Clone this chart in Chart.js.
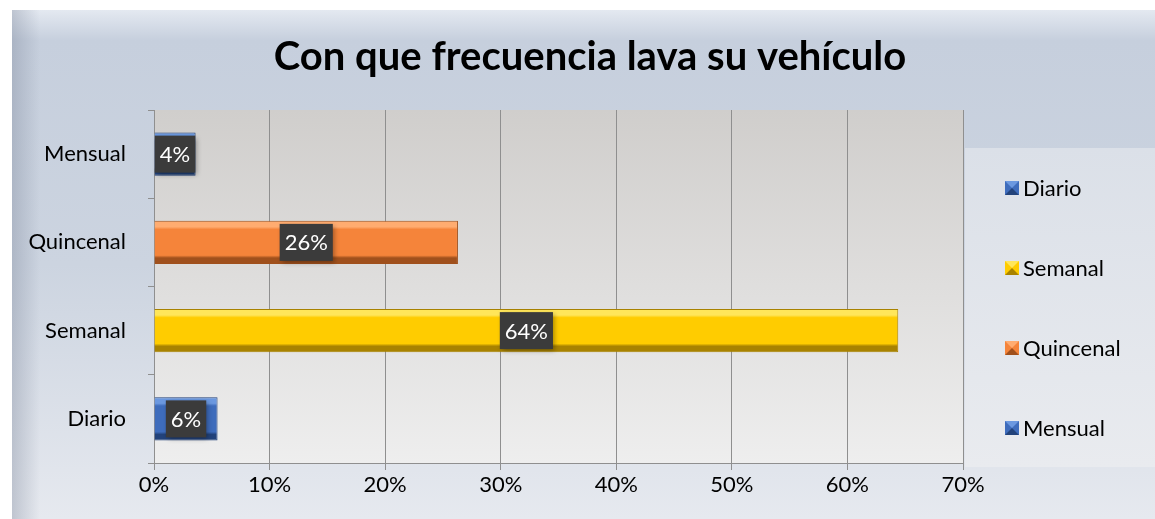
<!DOCTYPE html>
<html><head><meta charset="utf-8">
<script src="https://cdn.jsdelivr.net/npm/chart.js@4.4.1/dist/chart.umd.min.js"></script>
<style>html,body{margin:0;padding:0;background:#fff}#wrap{width:1155px;height:519px}</style>
</head><body><div id="wrap"><canvas id="c" width="1155" height="519"></canvas></div>
<script>
const categories = ['Diario', 'Semanal', 'Quincenal', 'Mensual'];
const values = [5.5, 64.4, 26.3, 3.6];
const valueLabels = ['6%', '64%', '26%', '4%'];
const xTicks = ['0%', '10%', '20%', '30%', '40%', '50%', '60%', '70%'];
const legendOrder = ['Diario', 'Semanal', 'Quincenal', 'Mensual'];
const titleText = 'Con que frecuencia lava su vehículo';

const baseColors = { Diario: ['#6b98e0', '#3e6cbc', '#22427a'], Semanal: ['#ffe65a', '#ffcc00', '#a88200'], Quincenal: ['#ffac70', '#f5843a', '#a0501c'], Mensual: ['#6b98e0', '#3e6cbc', '#22427a'] };
const FONT = 'Lato, "Open Sans", sans-serif';

const bgPlugin = {
  id: 'bg',
  beforeDraw(chart) {
    const ctx = chart.ctx, W = chart.width, H = chart.height;
    ctx.save();
    ctx.fillStyle = '#ffffff'; ctx.fillRect(0, 0, W, H);
    let g = ctx.createLinearGradient(0, 10, 0, H);
    g.addColorStop(0, '#e4e9f1'); g.addColorStop(0.06, '#c6cfdd'); g.addColorStop(0.5, '#ccd4e0'); g.addColorStop(1, '#e6e9ef');
    ctx.fillStyle = g; ctx.fillRect(12, 10, W - 12, H - 10);
    let gl = ctx.createLinearGradient(12, 0, 40, 0);
    gl.addColorStop(0, 'rgba(120,130,150,0.35)'); gl.addColorStop(1, 'rgba(120,130,150,0)');
    ctx.fillStyle = gl; ctx.fillRect(12, 10, 28, H - 10);
    let lg = ctx.createLinearGradient(0, 148, 0, 467);
    lg.addColorStop(0, '#dbe0e8'); lg.addColorStop(1, '#e9ebef');
    ctx.fillStyle = lg; ctx.fillRect(965, 148, W - 965, 319);
    const a = chart.chartArea;
    let pg = ctx.createLinearGradient(0, a.top, 0, a.bottom);
    pg.addColorStop(0, '#d0cecc'); pg.addColorStop(1, '#eeeeee');
    ctx.fillStyle = pg; ctx.fillRect(a.left, a.top, a.right - a.left, a.bottom - a.top);
    ctx.fillStyle = '#000'; ctx.font = 'bold 40px ' + FONT; ctx.textAlign = 'center'; ctx.textBaseline = 'middle';
    ctx.fillText(titleText, 590, 57);
    ctx.restore();
  }
};

const labelPlugin = {
  id: 'vlabels',
  afterDatasetsDraw(chart) {
    const ctx = chart.ctx, meta = chart.getDatasetMeta(0);
    ctx.save();
    ctx.font = '22px ' + FONT; ctx.textAlign = 'center'; ctx.textBaseline = 'middle';
    meta.data.forEach((bar, i) => {
      const cx = (bar.x + bar.base) / 2, cy = bar.y;
      const t = valueLabels[i];
      const w = ctx.measureText(t).width + 10, h = 37;
      ctx.shadowColor = 'rgba(0,0,0,0.35)'; ctx.shadowBlur = 5; ctx.shadowOffsetX = 2; ctx.shadowOffsetY = 2;
      ctx.fillStyle = '#3b3b3b'; ctx.fillRect(cx - w / 2, cy - h / 2, w, h);
      ctx.shadowColor = 'transparent';
      ctx.fillStyle = '#ffffff'; ctx.fillText(t, cx, cy + 1);
    });
    ctx.restore();
  }
};

const legendPlugin = {
  id: 'customLegend',
  afterDraw(chart) {
    const ctx = chart.ctx;
    ctx.save();
    ctx.font = '22px ' + FONT; ctx.textAlign = 'left'; ctx.textBaseline = 'middle';
    legendOrder.forEach((name, i) => {
      const y = 188 + i * 80;
      const c = baseColors[name];
      const x = 1005, s = 14;
      ctx.fillStyle = c[1]; ctx.fillRect(x, y - s / 2, s, s);
      ctx.fillStyle = c[0];
      ctx.beginPath(); ctx.moveTo(x, y - s / 2); ctx.lineTo(x + s, y - s / 2); ctx.lineTo(x + s / 2, y); ctx.closePath(); ctx.fill();
      ctx.fillStyle = c[2];
      ctx.beginPath(); ctx.moveTo(x, y + s / 2); ctx.lineTo(x + s, y + s / 2); ctx.lineTo(x + s / 2, y); ctx.closePath(); ctx.fill();
      ctx.fillStyle = '#000'; ctx.fillText(name, x + s + 4, y + 1);
    });
    ctx.restore();
  }
};

function barFill(context) {
  const chart = context.chart;
  const name = categories[context.dataIndex];
  const c = baseColors[name];
  const ys = chart.scales && chart.scales.y;
  if (!ys || !chart.chartArea) return c[1];
  const cy = ys.getPixelForValue(context.dataIndex);
  const half = (ys.height / categories.length) * 0.98 * 0.5 / 2;
  if (!isFinite(cy) || !isFinite(half) || half <= 0) return c[1];
  const g = chart.ctx.createLinearGradient(0, cy - half, 0, cy + half);
  g.addColorStop(0, c[0]); g.addColorStop(0.14, c[0]); g.addColorStop(0.2, c[1]); g.addColorStop(0.8, c[1]); g.addColorStop(0.86, c[2]); g.addColorStop(1, c[2]);
  return g;
}

new Chart(document.getElementById('c'), {
  type: 'bar',
  data: {
    labels: categories,
    datasets: [{
      data: values,
      backgroundColor: barFill,
      borderColor: categories.map(n => baseColors[n][2]),
      borderWidth: 1,
      categoryPercentage: 0.98,
      barPercentage: 0.5
    }]
  },
  options: {
    indexAxis: 'y',
    responsive: false,
    animation: false,
    devicePixelRatio: 1,
    layout: { padding: { top: 110, right: 192, left: 0, bottom: 0 } },
    plugins: { legend: { display: false }, tooltip: { enabled: false }, title: { display: false } },
    scales: {
      x: {
        min: 0, max: 70,
        ticks: { stepSize: 10, color: '#000', font: { family: FONT, size: 22 }, padding: 2,
          callback: (v, i) => xTicks[i] },
        grid: { color: '#8f8f8f', lineWidth: 1, tickLength: 7, drawTicks: true },
        border: { color: '#8f8f8f' },
        afterFit(s) { s.height = 56; }
      },
      y: {
        reverse: true,
        ticks: { color: '#000', font: { family: FONT, size: 22 }, padding: 22 },
        grid: { offset: true, drawOnChartArea: false, color: '#8f8f8f', tickLength: 6 },
        border: { color: '#8f8f8f' },
        afterFit(s) { s.width = 154; }
      }
    }
  },
  plugins: [bgPlugin, labelPlugin, legendPlugin]
});
</script></body></html>
